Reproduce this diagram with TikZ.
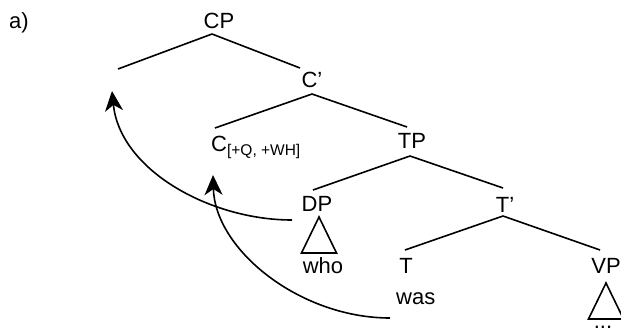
\documentclass[tikz,border=0pt]{standalone}
\usepackage{fontspec}
\setmainfont{Liberation Sans}
\usetikzlibrary{arrows.meta}
\begin{document}
\begin{tikzpicture}[x=1pt,y=-1pt,
  lbl/.style={inner sep=0pt, anchor=base, font=\fontsize{22}{26}\selectfont},
  branch/.style={line width=1.6pt},
  mover/.style={line width=1.6pt, -{Stealth[length=20pt,width=18pt,inset=6pt]}},
  tri/.style={line width=1.6pt}]
\useasboundingbox (0,0) rectangle (621,334);
% labels
\node[lbl, anchor=base west] (a) at (9,29) {a)};
\node[lbl] (cp) at (219,29) {CP};
\node[lbl] (cbar) at (312,88) {C’};
\node[lbl, anchor=base west] (c) at (211,151) {C\raisebox{-5pt}{\fontsize{15.5}{18}\selectfont[+Q, +WH]}};
\node[lbl] (tp) at (412,149) {TP};
\node[lbl] (dp) at (317,211) {DP};
\node[lbl] (who) at (323,273) {who};
\node[lbl] (tbar) at (505,212) {T’};
\node[lbl] (t) at (406,273) {T};
\node[lbl, anchor=base west] (was) at (396,304) {was};
\node[lbl] (vp) at (606,273) {VP};
\node[lbl, anchor=base] (dots) at (603,328.5) {...};
% branch points
\coordinate (cpb) at (212,34);
\coordinate (spec) at (118,69);
\coordinate (cbart) at (300,68);
\coordinate (cbarb) at (312,94);
\coordinate (ct) at (215,128);
\coordinate (tpt) at (407,127);
\coordinate (tpb) at (410,156);
\coordinate (dpt) at (313,190);
\coordinate (tbart) at (503,188);
\coordinate (tbarb) at (503,216);
\coordinate (tt) at (405,250);
\coordinate (vpt) at (600,250);
\coordinate (dptri) at (319,217);
\coordinate (vptri) at (606,283);
\coordinate (mv1) at (292,220);
\coordinate (mv2) at (390,318);
% branches
\draw[branch] (cpb) -- (spec);
\draw[branch] (cpb) -- (cbart);
\draw[branch] (cbarb) -- (ct);
\draw[branch] (cbarb) -- (tpt);
\draw[branch] (tpb) -- (dpt);
\draw[branch] (tpb) -- (tbart);
\draw[branch] (tbarb) -- (tt);
\draw[branch] (tbarb) -- (vpt);
% triangles
\draw[tri, line join=miter] (dptri) -- ++(-17.5,36) -- ++(35,0) -- cycle;
\draw[tri, line join=miter] (vptri) -- ++(-17.5,36) -- ++(35,0) -- cycle;
% movement arrows
\draw[mover] (mv1) .. controls (210,220) and (120,170) .. (112,91);
\draw[mover] (mv2) .. controls (300,318) and (215,250) .. (213,175);
\end{tikzpicture}
\end{document}
